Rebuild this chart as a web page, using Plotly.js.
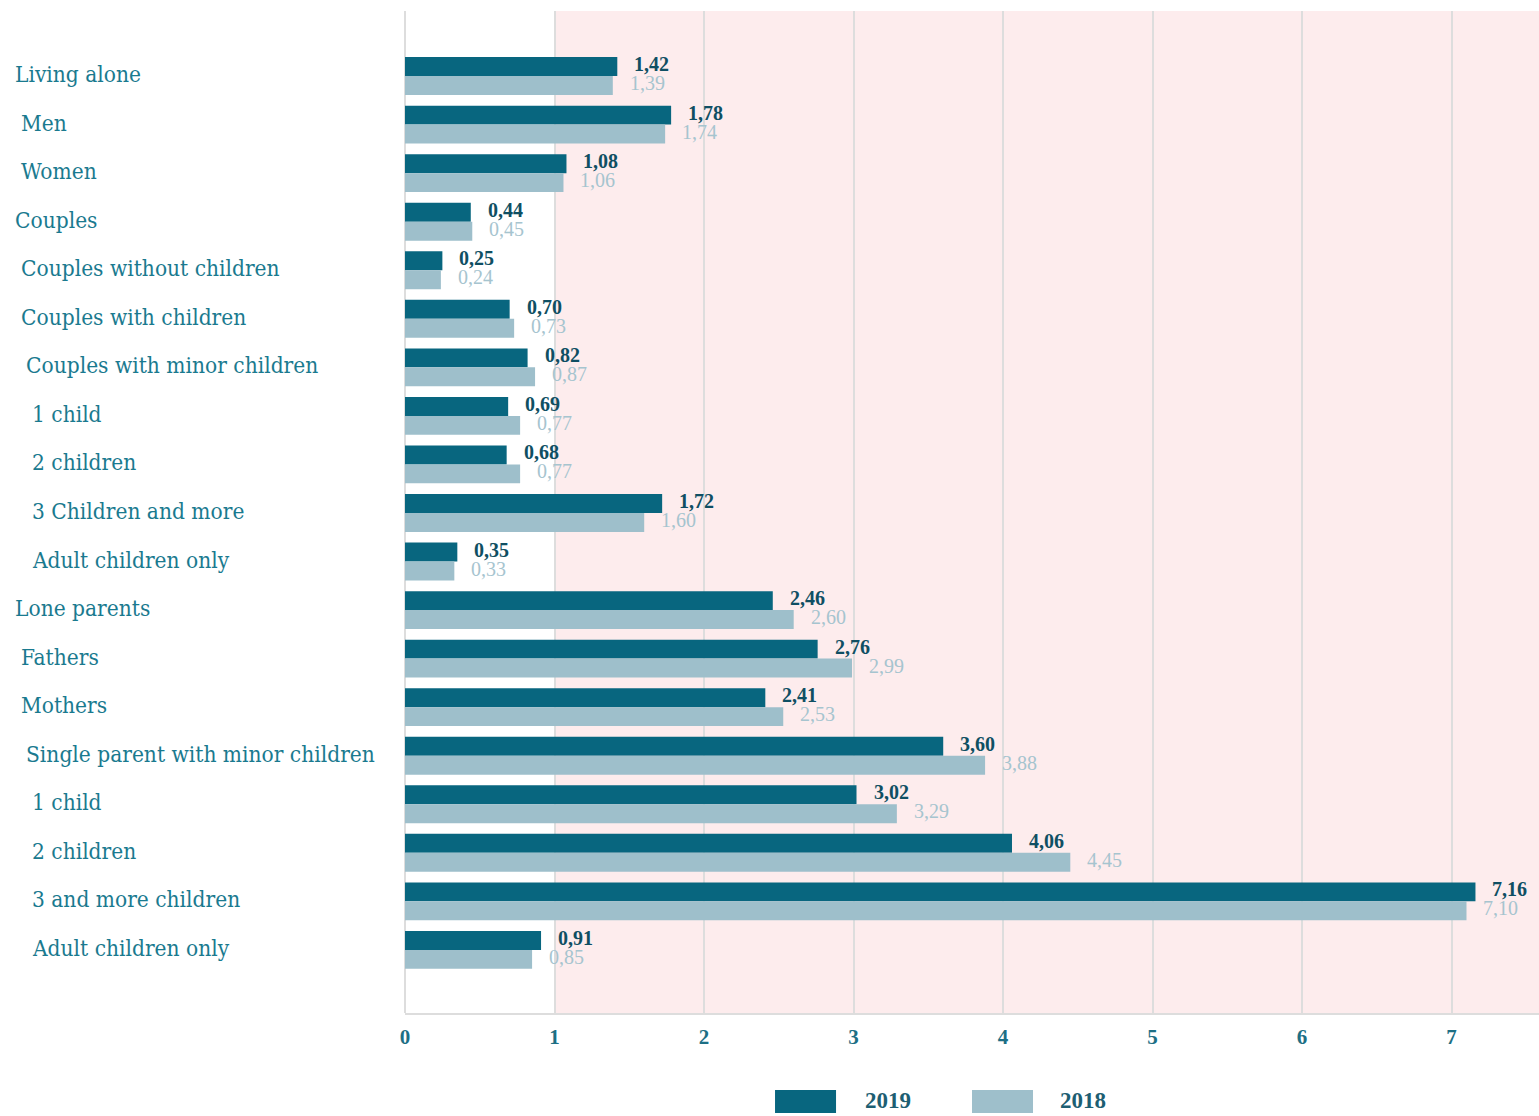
<!DOCTYPE html>
<html>
<head>
<meta charset="utf-8">
<script src="https://cdn.plot.ly/plotly-3.0.1.min.js"></script>
<style>
html,body{margin:0;padding:0;background:#fff;}
#chart{width:1539px;height:1116px;}
</style>
</head>
<body>
<div id="chart"></div>
<script>
const categories = [
  "Living alone","Men","Women","Couples","Couples without children",
  "Couples with children","Couples with minor children","1 child","2 children",
  "3 Children and more","Adult children only","Lone parents","Fathers","Mothers",
  "Single parent with minor children","1 child","2 children","3 and more children",
  "Adult children only"
];
const indentLevel = [0,1,1,0,1,1,2,3,3,3,3,0,1,1,2,3,3,3,3];
const values2019 = [1.42,1.78,1.08,0.44,0.25,0.70,0.82,0.69,0.68,1.72,0.35,2.46,2.76,2.41,3.60,3.02,4.06,7.16,0.91];
const values2018 = [1.39,1.74,1.06,0.45,0.24,0.73,0.87,0.77,0.77,1.60,0.33,2.60,2.99,2.53,3.88,3.29,4.45,7.10,0.85];
const seriesNames = ["2019","2018"];
const xTicks = [0,1,2,3,4,5,6,7];

const darkColor = "#08667f";
const lightColor = "#9ebfcb";
const labelColor = "#1a7a8f";
const fmt = v => v.toFixed(2).replace(".", ",");
const idx = categories.map((c,i)=>i);

const traces = [
  {type:"bar", orientation:"h", name:seriesNames[0], x:values2019, y:idx,
   marker:{color:darkColor}, hoverinfo:"x"},
  {type:"bar", orientation:"h", name:seriesNames[1], x:values2018, y:idx,
   marker:{color:lightColor}, hoverinfo:"x"}
];

const annotations = [];
const serif = "DejaVu Serif Condensed, Liberation Serif, serif";
const serif2 = "Liberation Serif, DejaVu Serif, serif";
categories.forEach((c,i)=>{
  annotations.push({xref:"paper", yref:"y", x:0, y:i, xanchor:"left", yanchor:"middle",
    xshift:-392 + indentLevel[i]*5.7, yshift:2, text:c, showarrow:false,
    font:{family:serif, size:22.5, color:labelColor}});
  annotations.push({xref:"x", yref:"y", x:values2019[i], y:i, xanchor:"left", yanchor:"middle",
    xshift:15, yshift:12, text:"<b>"+fmt(values2019[i])+"</b>", showarrow:false,
    font:{family:serif2, size:20, color:"#0f4f63"}});
  annotations.push({xref:"x", yref:"y", x:values2018[i], y:i, xanchor:"left", yanchor:"middle",
    xshift:15, yshift:-7, text:fmt(values2018[i]), showarrow:false,
    font:{family:serif2, size:20, color:"#a6c4cf"}});
});
// legend
const legendItems = [
  {name:seriesNames[0], color:darkColor, x0:0.3263, x1:0.3801, tx:0.4038},
  {name:seriesNames[1], color:lightColor, x0:0.5000, x1:0.5538, tx:0.5758}
];
const shapes = [
  {type:"rect", xref:"x", yref:"paper", x0:1, x1:10, y0:0, y1:1,
   fillcolor:"#fdeced", line:{width:0}, layer:"below"}
];
legendItems.forEach(l=>{
  shapes.push({type:"rect", xref:"paper", yref:"paper", x0:l.x0, x1:l.x1, y0:-0.0998, y1:-0.0768,
    fillcolor:l.color, line:{width:0}});
  annotations.push({xref:"paper", yref:"paper", x:l.tx, y:-0.0875, xanchor:"left", yanchor:"middle",
    text:"<b>"+l.name+"</b>", showarrow:false, font:{family:serif2, size:23, color:"#1d5e72"}});
});

const layout = {
  width:1539, height:1116,
  margin:{l:405, r:0, t:11, b:103, pad:0},
  paper_bgcolor:"#ffffff", plot_bgcolor:"rgba(0,0,0,0)",
  barmode:"group", bargap:0.22, bargroupgap:0,
  showlegend:false,
  separators:", ",
  xaxis:{range:[0,7.585], tickvals:xTicks, ticktext:xTicks.map(String),
    showgrid:true, gridcolor:"#dddddd", gridwidth:2, zeroline:true, zerolinecolor:"#dddddd", zerolinewidth:2,
    showline:true, linecolor:"#dddddd", linewidth:2, ticks:"", ticklen:0, ticklabelstandoff:4,
    tickfont:{family:serif2, size:21, color:"#1d6f85", weight:"bold"}, layer:"below traces"},
  yaxis:{range:[19.30,-1.34], showticklabels:false, showgrid:false, zeroline:false, showline:false, ticks:""},
  shapes:shapes,
  annotations:annotations,
  font:{family:serif2}
};
Plotly.newPlot("chart", traces, layout, {displayModeBar:false, staticPlot:true});
</script>
</body>
</html>
